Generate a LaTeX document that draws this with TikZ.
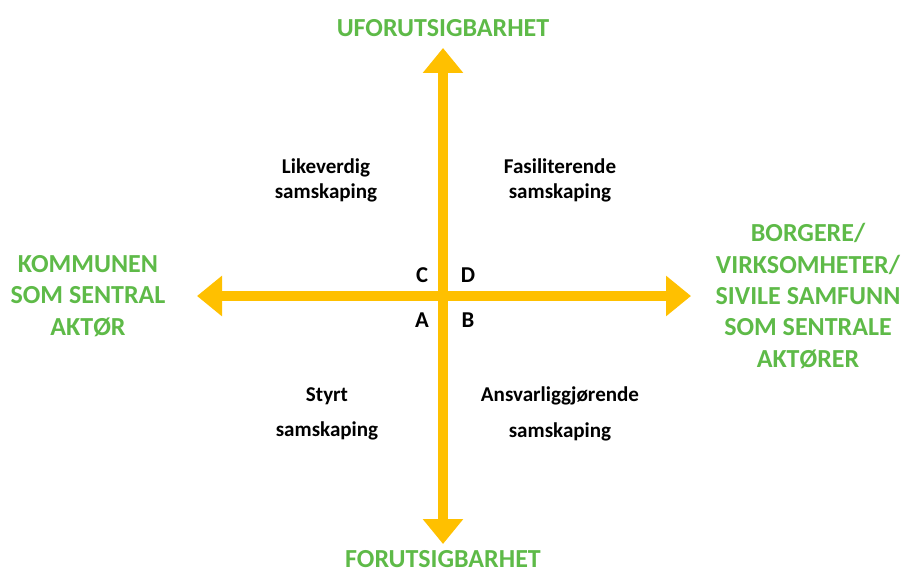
\documentclass[tikz,border=0pt]{standalone}
\usepackage{fontspec}
\setmainfont{Carlito}
\usepackage{tikz}
\usetikzlibrary{arrows.meta}
\usetikzlibrary{positioning}
\definecolor{axisorange}{RGB}{255,192,0}
\definecolor{polegreen}{RGB}{94,186,72}

\begin{document}
\begin{tikzpicture}[x=0.75pt, y=-0.75pt,
    axis/.style={draw=axisorange, line width=7.5pt,
      {Triangle[length=18.75pt, width=29.25pt]}-{Triangle[length=18.75pt, width=29.25pt]}},
    pole/.style={text=polegreen, align=center,
      font=\bfseries\fontsize{19.5}{23.6}\selectfont},
    quadrant/.style={align=center, font=\bfseries\fontsize{15.8}{18.8}\selectfont},
    corner/.style={font=\bfseries\fontsize{17}{20}\selectfont}]
    \useasboundingbox (0,0) rectangle (903,574);

    \coordinate (c) at (443,296);
    \coordinate (n) at (443,48);
    \coordinate (s) at (443,544);
    \coordinate (w) at (197,296);
    \coordinate (e) at (691,296);

    \draw[axis] (s) -- (n);
    \draw[axis] (w) -- (e);

    \node[pole, anchor=base] (unpredictable) at (443,37) {UFORUTSIGBARHET};
    \node[pole, anchor=base] (predictable) at (443,567) {FORUTSIGBARHET};
    \node[pole] (municipality) at (88,296) {KOMMUNEN\\SOM SENTRAL\\AKTØR};
    \node[pole] (citizens) at (808,296) {BORGERE/\\VIRKSOMHETER/\\SIVILE SAMFUNN\\SOM SENTRALE\\AKTØRER};

    \node[quadrant] (equal) at (326,180) {Likeverdig\\samskaping};
    \node[quadrant] (facilitating) at (560,180) {Fasiliterende\\samskaping};
    \node[quadrant] (governed) at (327,414) {Styrt\\[8pt]samskaping};
    \node[quadrant] (accountable) at (560,414) {Ansvarliggjørende\\[8pt]samskaping};

    \node[corner] (C) at (422,275) {C};
    \node[corner] (D) at (468,275) {D};
    \node[corner] (A) at (422,320) {A};
    \node[corner] (B) at (468,320) {B};
\end{tikzpicture}
\end{document}
